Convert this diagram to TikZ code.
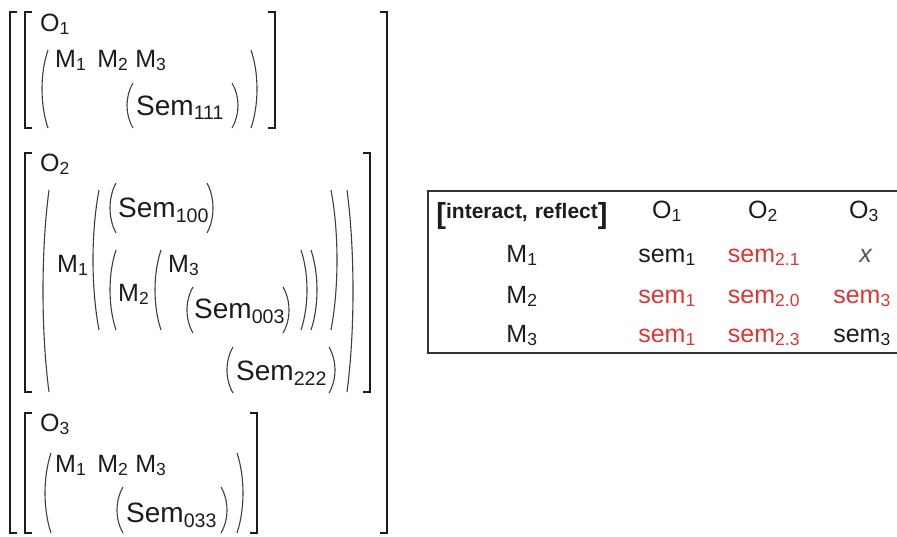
\documentclass[tikz,border=0pt]{standalone}
\usepackage{fontspec}
\setmainfont{Liberation Sans}
\usepackage{xcolor}
\usepackage{tikz}
\usetikzlibrary{positioning}
\definecolor{semred}{RGB}{222,52,52}
\definecolor{ink}{RGB}{28,28,28}
\tikzset{
  lbl/.style={anchor=base west, inner sep=0pt, text=ink, font=\fontsize{25}{28}\selectfont},
  semlbl/.style={lbl, font=\fontsize{28}{32}\selectfont},
  cell/.style={anchor=base, inner sep=0pt, text=ink, font=\fontsize{25}{28}\selectfont},
  hotcell/.style={cell, text=semred},
  delim/.style={draw=ink!85, line width=1.1pt},
  brk/.style={draw=ink, line width=1.8pt},
  tablebox/.style={draw=ink!90, line width=1.6pt},
}
% round delimiters: x of the bulge, top y, bottom y
\newcommand{\openpar}[3]{\draw[delim] (#1+6,#2) .. controls (#1-2,{#2+0.3*(#3-#2)}) and (#1-2,{#3-0.3*(#3-#2)}) .. (#1+6,#3);}
\newcommand{\closepar}[3]{\draw[delim] (#1-6,#2) .. controls (#1+2,{#2+0.3*(#3-#2)}) and (#1+2,{#3-0.3*(#3-#2)}) .. (#1-6,#3);}
% square brackets
\newcommand{\openbrk}[3]{\draw[brk] (#1+7,#2) -- (#1,#2) -- (#1,#3) -- (#1+7,#3);}
\newcommand{\closebrk}[3]{\draw[brk] (#1-7,#2) -- (#1,#2) -- (#1,#3) -- (#1-7,#3);}
\newcommand{\mrow}{M\textsubscript{1}\hspace{11pt}M\textsubscript{2}\hspace{7pt}M\textsubscript{3}}

\begin{document}
\begin{tikzpicture}[x=1pt, y=-1pt]
  \useasboundingbox (0,0) rectangle (897,536);

  % outer bracket
  \openbrk{10}{12}{533}
  \closebrk{387}{12}{533}

  % O1
  \openbrk{25}{12}{128}
  \closebrk{275}{12}{128}
  \node[lbl] (o1) at (40,31) {O\textsubscript{1}};
  \openpar{42}{50}{128}
  \node[lbl] (ms1) at (55,67) {\mrow};
  \openpar{127}{83}{128}
  \node[semlbl] (s111) at (136,115) {Sem\textsubscript{111}};
  \closepar{238}{83}{128}
  \closepar{257}{50}{128}

  % O2
  \openbrk{25}{153}{392}
  \closebrk{370}{153}{392}
  \node[lbl] (o2) at (40,171) {O\textsubscript{2}};
  \openpar{43}{190}{392}
  \node[lbl] (m1b) at (57,272) {M\textsubscript{1}};
  \openpar{93}{190}{330}
  \openpar{110}{183}{233}
  \node[semlbl] (s100) at (118,217) {Sem\textsubscript{100}};
  \closepar{213}{183}{233}
  \openpar{110}{250}{330}
  \node[lbl] (m2b) at (118,301) {M\textsubscript{2}};
  \openpar{155}{250}{330}
  \node[lbl] (m3b) at (168,272) {M\textsubscript{3}};
  \openpar{187}{287}{333}
  \node[semlbl] (s003) at (194,318) {Sem\textsubscript{003}};
  \closepar{289}{287}{333}
  \closepar{307}{250}{330}
  \closepar{317}{250}{330}
  \closepar{337}{190}{330}
  \openpar{227}{347}{393}
  \node[semlbl] (s222) at (236,380) {Sem\textsubscript{222}};
  \closepar{335}{347}{393}
  \closepar{353}{190}{392}

  % O3
  \openbrk{25}{413}{533}
  \closebrk{257}{413}{533}
  \node[lbl] (o3) at (40,431) {O\textsubscript{3}};
  \openpar{45}{453}{533}
  \node[lbl] (ms3) at (55,472) {\mrow};
  \openpar{117}{487}{533}
  \node[semlbl] (s033) at (126,522) {Sem\textsubscript{033}};
  \closepar{227}{487}{533}
  \closepar{243}{453}{533}

  % table
  \draw[tablebox] (905,191) -- (428,191) -- (428,353) -- (905,353);
  \node[cell, font=\bfseries\fontsize{21}{24}\selectfont] (hdr) at (522,218)
    {\raisebox{-5pt}{\fontsize{29}{30}\selectfont[}interact,\hspace{7pt}reflect\raisebox{-5pt}{\fontsize{29}{30}\selectfont]}};
  \node[cell] (h1) at (667,218) {O\textsubscript{1}};
  \node[cell] (h2) at (763,218) {O\textsubscript{2}};
  \node[cell] (h3) at (864,218) {O\textsubscript{3}};

  \node[cell] (r1) at (522,262) {M\textsubscript{1}};
  \node[cell] (r1c1) at (667,262) {sem\textsubscript{1}};
  \node[hotcell] (r1c2) at (764,262) {sem\textsubscript{2.1}};
  \node[cell, text=ink!75] (r1c3) at (866,262) {\textit{x}};

  \node[cell] (r2) at (522,303) {M\textsubscript{2}};
  \node[hotcell] (r2c1) at (667,303) {sem\textsubscript{1}};
  \node[hotcell] (r2c2) at (764,303) {sem\textsubscript{2.0}};
  \node[hotcell] (r2c3) at (862,303) {sem\textsubscript{3}};

  \node[cell] (r3) at (522,342) {M\textsubscript{3}};
  \node[hotcell] (r3c1) at (667,342) {sem\textsubscript{1}};
  \node[hotcell] (r3c2) at (764,342) {sem\textsubscript{2.3}};
  \node[cell] (r3c3) at (862,342) {sem\textsubscript{3}};
\end{tikzpicture}
\end{document}
